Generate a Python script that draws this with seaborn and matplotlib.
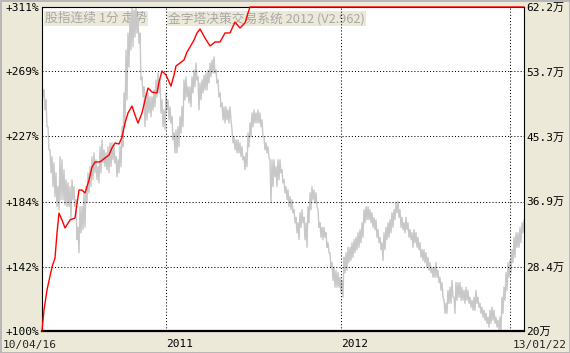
import numpy as np
import pandas as pd
import matplotlib
matplotlib.use("Agg")
import matplotlib.pyplot as plt
import seaborn as sns

# ---------------- data ----------------
# grey index series (万), sampled evenly in time: upper / lower swing per sample
gray_hi = [52.7, 51.4, 50.1, 46.6, 43.6, 42.7, 41.9, 40.6, 38.8, 42.7, 42.3, 41.0, 39.7, 39.3, 38.8, 39.7,
           38.8, 37.1, 33.5, 36.2, 36.2, 38.0, 38.8, 40.6, 41.4, 42.7, 43.2, 42.3, 41.4, 44.0, 44.9, 43.6,
           43.2, 44.0, 44.5, 44.5, 44.0, 42.7, 42.3, 44.0, 46.6, 51.0, 56.6, 58.8, 60.9, 62.2, 61.8, 62.2,
           60.5, 58.8, 53.1, 51.8, 51.0, 51.0, 50.5, 50.5, 51.4, 52.7, 53.6, 52.7, 50.1, 48.8, 51.0, 50.1,
           49.2, 47.9, 45.8, 46.2, 46.6, 47.9, 49.2, 52.7, 53.1, 51.8, 51.8, 53.1, 54.0, 54.9, 53.1, 52.3,
           52.7, 53.3, 53.6, 54.0, 54.9, 55.3, 55.7, 54.0, 52.7, 51.0, 49.7, 49.2, 49.2, 48.8, 49.2, 46.2,
           45.3, 44.9, 44.9, 44.5, 44.0, 42.7, 43.2, 45.8, 47.1, 48.4, 48.8, 48.4, 48.8, 48.4, 47.5, 45.3,
           44.5, 44.0, 42.3, 42.3, 42.3, 41.4, 42.3, 42.3, 41.0, 39.7, 38.8, 38.4, 37.5, 37.1, 35.8, 34.8,
           34.1, 35.4, 35.8, 34.8, 34.1, 36.2, 38.0, 38.8, 38.4, 38.0, 35.8, 34.1, 33.5, 33.5, 32.8, 31.5,
           30.2, 28.9, 28.3, 27.9, 27.6, 27.0, 26.6, 29.6, 30.2, 30.9, 30.9, 31.5, 31.9, 32.2, 32.8, 33.2,
           34.1, 35.8, 36.2, 36.2, 35.8, 35.4, 34.8, 34.5, 33.2, 32.2, 31.5, 32.8, 33.5, 34.1, 34.5, 35.4,
           35.8, 36.7, 36.9, 35.8, 34.8, 34.1, 34.8, 34.1, 33.2, 32.8, 33.2, 32.8, 32.2, 31.5, 30.6, 30.6,
           30.2, 29.6, 28.9, 28.3, 28.3, 28.9, 27.9, 27.0, 26.3, 24.0, 23.6, 25.3, 25.7, 26.6, 24.4, 26.3,
           26.3, 26.3, 25.7, 25.3, 25.7, 25.3, 24.4, 24.0, 24.4, 25.3, 24.4, 23.6, 23.1, 22.7, 22.3, 21.8,
           22.7, 23.1, 22.7, 21.8, 21.4, 21.8, 24.4, 25.7, 27.6, 28.9, 29.2, 30.6, 32.2, 32.8, 32.8, 33.5,
           34.1, 34.5]
gray_lo = [50.5, 48.8, 46.6, 43.6, 40.6, 38.8, 37.5, 36.2, 35.8, 37.1, 37.1, 36.4, 36.2, 36.2, 34.5, 37.1,
           36.2, 31.9, 30.2, 32.8, 33.2, 33.5, 36.7, 38.0, 38.8, 39.7, 40.6, 39.7, 39.3, 40.6, 41.9, 41.4,
           41.0, 40.6, 41.4, 42.3, 41.9, 40.1, 40.6, 41.4, 44.0, 46.6, 50.1, 54.4, 56.6, 57.0, 58.3, 58.8,
           57.5, 52.7, 50.5, 46.6, 47.5, 48.4, 47.9, 48.8, 49.2, 50.5, 51.0, 48.4, 46.6, 46.2, 48.8, 47.5,
           47.1, 44.9, 43.2, 43.2, 44.0, 45.8, 46.6, 50.1, 50.5, 49.7, 49.2, 51.0, 51.8, 52.7, 48.8, 50.1,
           51.0, 51.4, 51.4, 52.3, 53.1, 53.6, 53.6, 52.3, 50.5, 49.2, 47.5, 47.1, 47.5, 47.1, 47.5, 44.5,
           43.6, 43.2, 43.2, 42.7, 42.3, 41.0, 41.4, 44.0, 45.3, 46.6, 47.1, 47.1, 47.1, 46.6, 45.3, 43.6,
           43.2, 42.5, 36.7, 38.8, 40.1, 38.8, 39.7, 40.6, 39.3, 38.0, 37.1, 36.2, 35.8, 35.4, 34.1, 32.8,
           31.9, 33.5, 34.1, 31.9, 30.9, 34.1, 35.8, 37.1, 36.7, 36.2, 33.5, 32.2, 31.9, 32.2, 30.9, 30.2,
           28.3, 26.6, 25.7, 25.7, 25.7, 25.0, 24.4, 27.6, 27.9, 28.9, 29.2, 29.6, 30.2, 30.6, 30.9, 31.5,
           32.2, 34.1, 34.5, 34.5, 34.1, 33.5, 33.2, 32.2, 31.5, 30.6, 29.2, 30.6, 31.9, 32.2, 32.8, 33.5,
           34.5, 35.4, 34.8, 33.5, 33.2, 32.8, 33.2, 32.2, 31.9, 30.9, 31.5, 30.9, 30.6, 29.6, 29.2, 28.9,
           28.3, 27.9, 27.6, 27.0, 27.0, 27.0, 26.3, 25.3, 24.4, 22.3, 22.3, 23.6, 23.6, 24.4, 22.3, 24.0,
           24.4, 24.0, 24.0, 23.6, 24.0, 23.6, 23.1, 22.7, 22.7, 23.6, 23.1, 22.3, 21.8, 21.4, 21.0, 20.5,
           21.0, 21.4, 21.0, 20.5, 20.0, 20.1, 22.3, 24.0, 25.3, 27.0, 27.6, 28.9, 29.6, 30.9, 30.9, 31.5,
           32.8, 33.2]

# red strategy equity curve (%), sample positions on the same time index
red_t = [0, 1, 2.5, 5, 6.5, 7.5, 8.5, 10, 11.5, 14, 16.5, 18.5, 20, 21.5, 23.5, 25, 26.5, 29, 31.5,
         33.5, 35, 36.5, 38.5, 40, 41.5, 43, 45, 46.5, 48, 50, 51.5, 53, 55, 57.5, 58.5, 60, 62, 64.5,
         66, 67, 69, 71, 72.5, 74, 76, 77.5, 79, 81.5, 84, 86.5, 89, 91.5, 94, 96.5, 99, 101.5, 103,
         104, 241]
red_v = [100, 113.7, 126.7, 141.7, 147.5, 163.8, 176.8, 172.3, 167.1, 172.3, 173.6, 191.8, 191.8,
         189.9, 198.3, 206.8, 210.1, 210.1, 212.7, 214.6, 219.2, 222.4, 221.8, 226.3, 235.4, 242.0,
         246.5, 240.7, 235.4, 242.0, 250.4, 258.2, 255.6, 255.0, 262.1, 269.3, 266.7, 259.5, 266.7,
         272.6, 274.5, 276.5, 281.7, 284.9, 289.5, 294.1, 296.7, 290.8, 285.6, 288.2, 288.2, 294.1,
         294.1, 301.2, 297.3, 300.6, 307.1, 311, 311]

left_ticks = [100, 142, 184, 227, 269, 311]
left_labels = ["+100%", "+142%", "+184%", "+227%", "+269%", "+311%"]
right_ticks = [20, 28.4, 36.9, 45.3, 53.7, 62.2]
right_labels = ["20万", "28.4万", "36.9万", "45.3万", "53.7万", "62.2万"]
x_ticks = [62, 149.5, 234]
x_labels = ["2011", "2012", ""]
start_label = "10/04/16"
end_label = "13/01/22"
title_left = "股指连续 1分 走势"
title_right = "金字塔决策交易系统 2012 (V2.962)"

# ---------------- styling ----------------
sns.set_style("white")
plt.rcParams["font.family"] = ["DejaVu Sans Mono", "Noto Sans CJK SC"]
BG = "#ECE9D8"
GRAY = "#C8C8C8"

W, H = 570, 353
fig = plt.figure(figsize=(W / 100, H / 100), dpi=100, facecolor=BG)
fig.patch.set_edgecolor("#B8B8B8")
fig.patch.set_linewidth(1)

ax = fig.add_axes([42 / W, 1 - 331 / H, 482 / W, 324 / H])
ax2 = ax.twinx()
ax.set_zorder(2)
ax.patch.set_visible(False)
ax2.set_zorder(1)
ax2.patch.set_visible(True)
ax2.patch.set_facecolor("white")

# grey zig-zag series
n = len(gray_hi)
t_z, v_z = [], []
for i in range(n):
    t_z += [i, i + 0.5]
    v_z += [gray_hi[i], gray_lo[i]]
gdf = pd.DataFrame({"t": t_z, "v": v_z})
sns.lineplot(data=gdf, x="t", y="v", ax=ax2, color=GRAY, linewidth=1.0,
             estimator=None, sort=False, zorder=2)

# red equity line
rdf = pd.DataFrame({"t": red_t, "v": red_v})
sns.lineplot(data=rdf, x="t", y="v", ax=ax, color="#FF0000", linewidth=1.0,
             estimator=None, sort=False, zorder=3)
ax.lines[-1].set_clip_on(False)

ax.set_xlim(0, 241)
ax.set_ylim(100, 311)
ax2.set_ylim(20, 62.2)

ax.set_yticks(left_ticks, left_labels)
ax2.set_yticks(right_ticks, right_labels)
ax.set_xticks(x_ticks, x_labels)
for lab in ax.get_xticklabels():
    lab.set_horizontalalignment("left")

ax.tick_params(axis="y", length=0, pad=2, labelsize=8, colors="black")
ax2.tick_params(axis="y", length=0, pad=1.5, labelsize=8, colors="black")
ax.tick_params(axis="x", length=0, pad=6, labelsize=8, colors="black")
ax2.tick_params(axis="x", length=0)

ax.grid(True, color="black", linestyle=(0, (1, 2)), linewidth=0.75)
ax2.grid(False)
for a in (ax, ax2):
    a.set_xlabel("")
    a.set_ylabel("")

for s in ax.spines.values():
    s.set_visible(True)
    s.set_color("black")
    s.set_linewidth(0.8)
ax.spines["bottom"].set_linewidth(1.6)
for s in ax2.spines.values():
    s.set_visible(False)

txt_kw = dict(transform=ax2.transAxes, va="top", ha="left", fontsize=9.2,
              color="#A8A8A8", family=["Noto Sans CJK SC", "DejaVu Sans"],
              bbox=dict(facecolor=BG, edgecolor="none", pad=0.6), zorder=1.5)
ax2.text(3 / 482, 1 - 5 / 324, title_left, **txt_kw)
ax2.text(126 / 482, 1 - 5 / 324, title_right, **txt_kw)

fig.text(3 / W, 1 - 345 / H, start_label, ha="left", va="center", fontsize=8)
fig.text(567 / W, 1 - 345 / H, end_label, ha="right", va="center", fontsize=8)

fig.savefig("out.png", dpi=100, facecolor=fig.get_facecolor(), edgecolor=fig.get_edgecolor())
